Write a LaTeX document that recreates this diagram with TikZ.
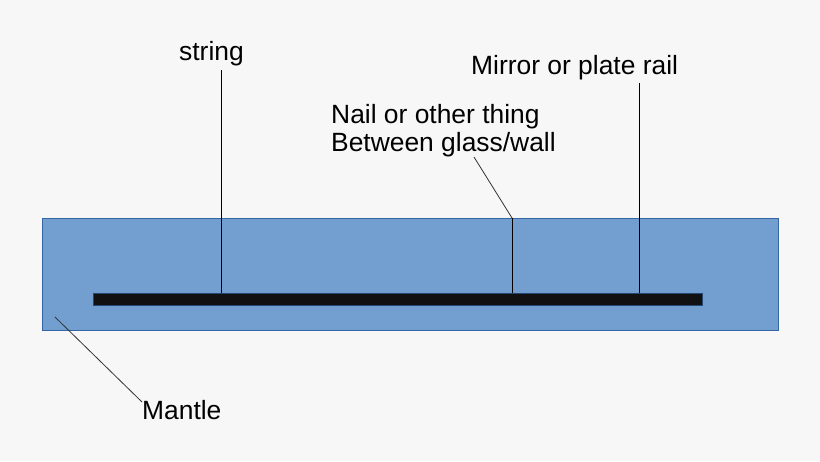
\documentclass[tikz,border=0pt]{standalone}
\usepackage{fontspec}
\setmainfont{Liberation Sans}
\definecolor{bgc}{HTML}{F7F7F7}
\definecolor{mantlefill}{HTML}{729FCF}
\definecolor{mantleedge}{HTML}{3465A4}
\definecolor{barfill}{HTML}{111111}
\begin{document}
\begin{tikzpicture}[x=1pt,y=-1pt,
  lbl/.style={inner sep=0pt,anchor=base west,font=\fontsize{26.4}{28}\selectfont,text=black},
  leader/.style={draw=black,line width=1pt},
  thin leader/.style={draw=black!80,line width=0.8pt}]
\fill[bgc] (0,0) rectangle (820,461);
\useasboundingbox (0,0) rectangle (820,461);
% mantle
\draw[fill=mantlefill,draw=mantleedge,line width=1pt] (42,218) rectangle (778,330);
% bar
\draw[fill=barfill,draw=mantleedge!70!black,line width=1pt] (93,293) rectangle (702,305);
\coordinate (s1) at (221,293);
\coordinate (n1) at (512,293);
\coordinate (m1) at (639,293);
\coordinate (n2) at (512,218);
% labels
\node[lbl] (string) at (179,60) {string};
\node[lbl] (mirror) at (471,74) {Mirror or plate rail};
\node[lbl,align=left,anchor=north west] (nail) at (331,104.5) {Nail or other thing\\Between glass/wall};
\node[lbl] (mantlelbl) at (142,419) {Mantle};
\coordinate (stop) at (221,70);
\coordinate (mtop) at (639,83);
\coordinate (ntop) at (474,157);
\coordinate (mlt) at (142,402);
\coordinate (mlb) at (55,317);
% leaders
\draw[leader] (stop) -- (s1);
\draw[leader] (mtop) -- (m1);
\draw[leader] (n2) -- (n1);
\draw[thin leader] (ntop) -- (n2);
\draw[thin leader] (mlt) -- (mlb);
\end{tikzpicture}
\end{document}
